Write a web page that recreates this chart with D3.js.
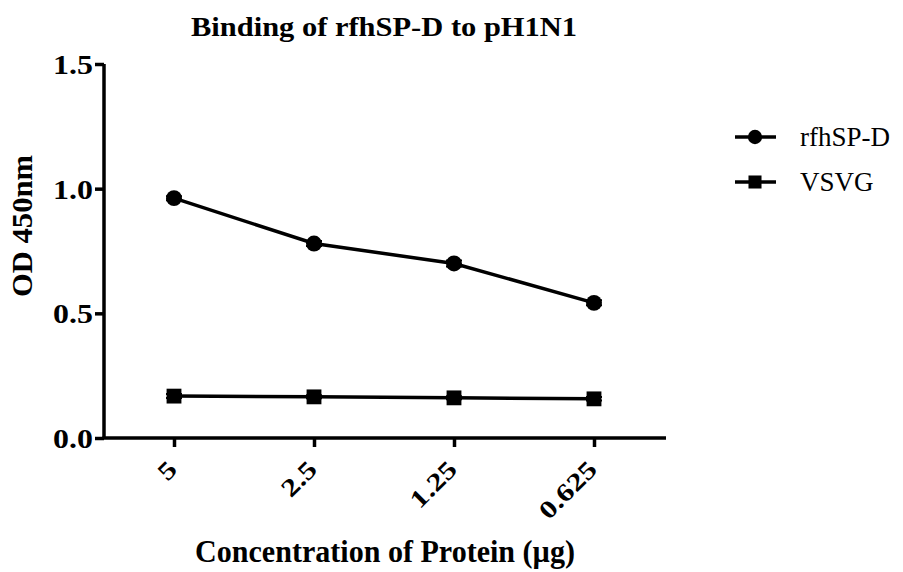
<!DOCTYPE html>
<html>
<head>
<meta charset="utf-8">
<script src="https://cdn.jsdelivr.net/npm/d3@7"></script>
<style>
  body { margin: 0; background: #fff; }
  svg text { font-family: "Times New Roman", "Liberation Serif", Times, Tinos, "Nimbus Roman", serif; }
</style>
</head>
<body>
<script>
  var w = 903, h = 572;
  var margin = {top: 64, bottom: 134, left: 104, right: 239};

  var concentrations = ["5", "2.5", "1.25", "0.625"];
  var rfhSPD = [0.962, 0.780, 0.700, 0.542];
  var rfhSPDErr = [0.008, 0.010, 0.012, 0.010];
  var vsvg = [0.168, 0.165, 0.161, 0.157];
  var vsvgErr = [0.008, 0.006, 0.006, 0.007];
  var yTicks = [0.0, 0.5, 1.0, 1.5];

  var series = [
    {name: "rfhSP-D", values: rfhSPD, err: rfhSPDErr, shape: "circle"},
    {name: "VSVG", values: vsvg, err: vsvgErr, shape: "square"}
  ];

  var svg = d3.select("body").append("svg")
    .attr("width", w)
    .attr("height", h);

  var xScale = d3.scalePoint()
    .domain(concentrations)
    .range([margin.left, w - margin.right])
    .padding(0.5);

  var yScale = d3.scaleLinear()
    .domain([0, 1.5])
    .range([h - margin.bottom, margin.top]);

  // y axis
  var yAxis = svg.append("g")
    .attr("transform", "translate(" + margin.left + ",0)")
    .call(d3.axisLeft(yScale).tickValues(yTicks).tickFormat(d3.format(".1f")).tickSize(9));
  yAxis.select(".domain").attr("stroke-width", 3.5).attr("d", "M0," + yScale(1.5) + "V" + yScale(0));
  yAxis.selectAll(".tick line").attr("stroke-width", 3.5);
  yAxis.selectAll(".tick text")
    .attr("x", 0)
    .attr("dy", "0.34em")
    .attr("transform", "translate(-11,0) scale(1.14,1)")
    .attr("font-size", 28)
    .attr("font-weight", "bold")
    .attr("fill", "#000");

  // x axis
  var xAxis = svg.append("g")
    .attr("transform", "translate(0," + (h - margin.bottom) + ")")
    .call(d3.axisBottom(xScale).tickSize(9).tickSizeOuter(0));
  xAxis.select(".domain").attr("stroke-width", 3.5)
    .attr("d", "M" + (margin.left - 1.5) + ",0H" + (w - margin.right + 2));
  xAxis.selectAll(".tick line").attr("stroke-width", 3.5);
  xAxis.selectAll(".tick text")
    .attr("x", 0)
    .attr("y", 0)
    .attr("dy", 0)
    .attr("font-size", 25)
    .attr("font-weight", "bold")
    .attr("fill", "#000")
    .attr("text-anchor", "end")
    .attr("transform", "translate(4,33) rotate(-45) scale(1.25,1)");

  var line = d3.line()
    .x(function (d, i) { return xScale(concentrations[i]); })
    .y(function (d) { return yScale(d); });

  series.forEach(function (s) {
    svg.append("path")
      .attr("d", line(s.values))
      .attr("fill", "none")
      .attr("stroke", "#000")
      .attr("stroke-width", 3.5);

    // error bars
    svg.selectAll(null)
      .data(s.values)
      .enter()
      .append("path")
      .attr("stroke", "#000")
      .attr("stroke-width", 2)
      .attr("fill", "none")
      .attr("d", function (d, i) {
        var x = xScale(concentrations[i]);
        var y1 = yScale(d + s.err[i]), y2 = yScale(d - s.err[i]);
        return "M" + (x - 8) + "," + y1 + "H" + (x + 8) + "M" + x + "," + y1 + "V" + y2 + "M" + (x - 8) + "," + y2 + "H" + (x + 8);
      });

    var sym = d3.symbol().type(s.shape == "circle" ? d3.symbolCircle : d3.symbolSquare)
      .size(s.shape == "circle" ? 200 : 220);

    svg.selectAll(null)
      .data(s.values)
      .enter()
      .append("path")
      .attr("d", sym)
      .attr("fill", "#000")
      .attr("transform", function (d, i) {
        return "translate(" + xScale(concentrations[i]) + "," + yScale(d) + ")";
      });
  });

  // legend
  series.forEach(function (s, i) {
    var ly = 137 + i * 45;
    svg.append("line")
      .attr("x1", 735).attr("x2", 776)
      .attr("y1", ly).attr("y2", ly)
      .attr("stroke", "#000")
      .attr("stroke-width", 3.5);
    svg.append("path")
      .attr("d", d3.symbol().type(s.shape == "circle" ? d3.symbolCircle : d3.symbolSquare).size(s.shape == "circle" ? 160 : 170))
      .attr("fill", "#000")
      .attr("transform", "translate(755," + ly + ")");
    svg.append("text")
      .attr("x", 800)
      .attr("y", ly + 9)
      .attr("font-size", 27)
      .attr("fill", "#000")
      .text(s.name);
  });

  // title
  svg.append("text")
    .attr("x", 384)
    .attr("y", 36)
    .attr("text-anchor", "middle")
    .attr("font-size", 28)
    .attr("font-weight", "bold")
    .attr("textLength", 386)
    .attr("lengthAdjust", "spacingAndGlyphs")
    .text("Binding  of rfhSP-D to pH1N1");

  // axis titles
  svg.append("text")
    .attr("transform", "translate(32,226) rotate(-90)")
    .attr("text-anchor", "middle")
    .attr("font-size", 30)
    .attr("font-weight", "bold")
    .attr("textLength", 142)
    .attr("lengthAdjust", "spacingAndGlyphs")
    .text("OD 450nm");

  svg.append("text")
    .attr("x", 385)
    .attr("y", 562)
    .attr("text-anchor", "middle")
    .attr("font-size", 31)
    .attr("font-weight", "bold")
    .attr("textLength", 380)
    .attr("lengthAdjust", "spacingAndGlyphs")
    .text("Concentration of Protein (µg)");
</script>
</body>
</html>
